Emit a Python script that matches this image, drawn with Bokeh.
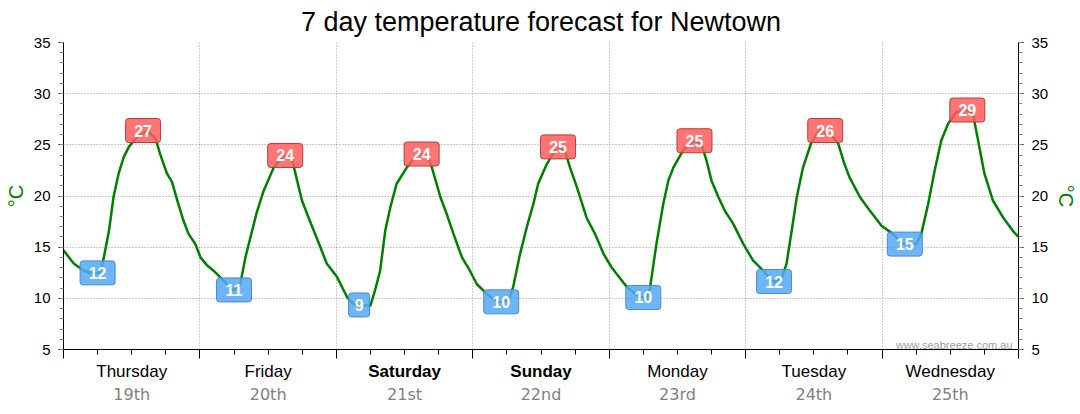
from bokeh.plotting import figure
from bokeh.models import (ColumnDataSource, LinearAxis, FixedTicker, Range1d,
                          Label)
from bokeh.layouts import column
from bokeh.core.properties import value
from bokeh.embed import file_html
from bokeh.resources import INLINE
import numpy as np

# ---------------- data ----------------
title_text = "7 day temperature forecast for Newtown"
days = ["Thursday", "Friday", "Saturday", "Sunday", "Monday", "Tuesday", "Wednesday"]
dates = ["19th", "20th", "21st", "22nd", "23rd", "24th", "25th"]
weekend = [False, False, True, True, False, False, False]

# readings: hours since Thursday 00:00 and temperature in °C
hours = [0.0, 1.8, 3.6, 5.3, 6.5, 7.1, 8.0, 8.8, 9.7, 10.6, 11.5, 12.9,
         14.7, 16.2, 17.0, 18.2, 19.1, 20.0, 21.1, 22.0, 23.2,
         24.1, 25.3, 26.4, 28.2, 29.9, 31.1, 32.0, 32.9, 34.0, 35.2, 37.0,
         38.7, 40.2, 41.1, 41.95, 43.1, 45.2, 46.3,
         48.1, 49.9, 51.0, 52.5, 54.0, 54.8, 55.7, 56.6, 57.5, 58.6, 60.4,
         62.2, 63.9, 64.8, 66.3, 67.4, 68.6, 70.1, 71.5,
         72.7, 74.5, 76.5, 78.3, 79.1, 80.3, 81.5, 82.65, 83.5, 85.0, 86.8,
         88.2, 89.1, 90.3, 92.0, 93.5, 95.0,
         96.4, 99.1, 100.8, 102.6, 103.2, 104.3, 105.5, 106.4, 107.3, 109.0,
         110.8, 112.2, 113.1, 114.0, 115.2, 116.3, 117.8, 119.6,
         121.3, 123.1, 124.8, 126.3, 127.2, 128.1, 129.0, 130.1, 131.6, 133.0,
         135.4, 136.3, 137.4, 138.3, 140.1, 141.8, 143.9,
         145.9, 147.7, 150.0, 150.9, 152.1, 153.25, 154.4, 155.6, 157.1,
         158.8, 160.0, 160.9, 162.0, 163.5, 165.3, 167.0, 168.0]
temps = [14.7, 13.4, 12.7, 12.4, 12.55, 14.0, 16.6, 19.9, 22.2, 23.8, 24.8, 25.75,
         26.4, 25.6, 24.1, 22.2, 21.35, 19.6, 17.6, 16.3, 15.3,
         14.0, 13.2, 12.7, 11.7, 10.77, 11.4, 14.0, 16.0, 18.4, 20.5, 22.8,
         23.96, 23.6, 21.5, 19.56, 17.9, 15.0, 13.4,
         12.1, 10.1, 9.46, 9.3, 9.3, 10.77, 12.7, 16.6, 18.9, 21.2, 22.8,
         24.0, 24.1, 22.8, 19.9, 18.26, 16.3, 14.0, 12.7,
         11.4, 10.4, 9.6, 9.8, 11.1, 14.3, 16.95, 19.2, 21.2, 23.1, 24.8,
         24.45, 22.8, 20.9, 17.9, 16.3, 14.35,
         13.04, 11.1, 10.35, 9.95, 11.1, 15.3, 19.2, 21.5, 22.8, 24.45,
         25.4, 25.1, 23.5, 21.5, 19.9, 18.6, 17.3, 15.3,
         13.7, 12.7, 11.6, 11.9, 13.4, 16.6, 19.9, 22.8, 25.3, 26.4,
         25.75, 25.1, 23.1, 21.8, 19.9, 18.6, 17.1,
         16.3, 15.3, 15.3, 16.3, 19.2, 22.5, 25.4, 27.05, 28.2,
         28.4, 28.0, 25.4, 22.2, 19.56, 17.9, 16.6, 16.0]

min_hours = [6, 30, 52, 77, 102, 125, 148]
min_temps = [12, 11, 9, 10, 10, 12, 15]
max_hours = [14, 39, 63, 87, 111, 134, 159]
max_temps = [27, 24, 24, 25, 25, 26, 29]

y_ticks = [5, 10, 15, 20, 25, 30, 35]
y_minor = list(range(5, 36))
day_ticks = [0, 24, 48, 72, 96, 120, 144, 168]
six_hour_ticks = [6, 12, 18, 30, 36, 42, 54, 60, 66, 78, 84, 90,
                  102, 108, 114, 126, 132, 138, 150, 156, 162]
day_centres = [12, 36, 60, 84, 108, 132, 156]

# ---------------- main figure ----------------
FONT = "Liberation Sans"
W = 1080
LEFT, RIGHT = 63, 62
p = figure(width=W, height=360, output_backend="svg", toolbar_location=None,
           x_range=Range1d(0, 168), y_range=Range1d(5, 35),
           min_border_left=LEFT, min_border_right=RIGHT, min_border_top=42,
           min_border_bottom=11)
p.outline_line_color = None
p.background_fill_color = "white"
p.border_fill_color = "white"

p.title.text = title_text
p.title.text_font = FONT
p.title.text_font_size = "27px"
p.title.text_font_style = "normal"
p.title.text_color = "black"
p.title.align = "center"
p.title.vertical_align = "top"
p.title.standoff = 8

# grids
p.xgrid.ticker = FixedTicker(ticks=day_ticks[1:-1])
p.ygrid.ticker = FixedTicker(ticks=y_ticks[1:-1])
for g in (p.xgrid, p.ygrid):
    g.grid_line_color = "#9a9a9a"
    g.grid_line_dash = "1 2"
    g.grid_line_width = 1

# bottom axis: line and ticks; its labels are drawn in the strip below
xa = p.xaxis[0]
xa.ticker = FixedTicker(ticks=day_ticks, minor_ticks=six_hour_ticks)
xa.axis_line_color = "black"
xa.major_tick_line_color = "black"
xa.minor_tick_line_color = "black"
xa.major_tick_out = 9
xa.major_tick_in = 0
xa.minor_tick_out = 5
xa.minor_tick_in = 0
xa.major_label_standoff = 0
xa.major_label_text_font_size = "0px"
xa.major_label_text_color = None


def style_y(ax):
    ax.ticker = FixedTicker(ticks=y_ticks, minor_ticks=y_minor)
    ax.axis_line_color = "black"
    ax.major_tick_line_color = "black"
    ax.minor_tick_line_color = "#8a8a8a"
    ax.major_tick_out = 5
    ax.major_tick_in = 0
    ax.minor_tick_out = 4
    ax.minor_tick_in = 0
    ax.major_label_standoff = 8
    ax.major_label_text_font = FONT
    ax.major_label_text_font_size = "15px"
    ax.major_label_text_color = "black"
    ax.axis_label = "°C"
    ax.axis_label_text_font = FONT
    ax.axis_label_text_font_size = "20px"
    ax.axis_label_text_font_style = "normal"
    ax.axis_label_text_color = "#008000"
    ax.axis_label_standoff = 4


style_y(p.yaxis[0])
right_axis = LinearAxis()
style_y(right_axis)
p.add_layout(right_axis, "right")

# temperature line
p.line(hours, temps, line_color="#008000", line_width=2.5, line_join="round")

# min / max boxes: placed on the curve's extreme near each label time
h_arr = np.array(hours)
t_arr = np.array(temps)
min_y = np.interp(min_hours, hours, temps)
max_y = [t_arr[np.abs(h_arr - h) <= 2.0].max() for h in max_hours]

box_src = ColumnDataSource(dict(
    x=list(min_hours) + list(max_hours),
    y=list(min_y) + list(max_y),
    txt=[str(v) for v in min_temps] + [str(v) for v in max_temps],
    w=[21 if v < 10 else 35 for v in min_temps] + [21 if v < 10 else 35 for v in max_temps],
    fill=["#55a8f5"] * len(min_temps) + ["#ff5c5c"] * len(max_temps),
    line=["#4a88d8"] * len(min_temps) + ["#c03a3a"] * len(max_temps),
))
r = p.rect(x="x", y="y", width="w", height=24, width_units="screen",
           height_units="screen", fill_color="fill", fill_alpha=0.85,
           line_color="line", line_width=1, source=box_src)
try:
    r.glyph.border_radius = 3
except Exception:
    pass
p.text(x="x", y="y", text="txt", source=box_src, text_color="white",
       text_font=value(FONT), text_font_size="16px", text_font_style="bold",
       text_align="center", text_baseline="middle")

# watermark
p.add_layout(Label(x=168, y=5, x_offset=-6, y_offset=5,
                   text="www.seabreeze.com.au", text_font=FONT,
                   text_font_size="11px", text_color="#a0a0a0",
                   text_align="right", text_baseline="alphabetic"))

# ---------------- strip below: day names and dates ----------------
H2 = 54
q = figure(width=W, height=H2, output_backend="svg", toolbar_location=None,
           x_range=p.x_range, y_range=Range1d(H2, 0),
           x_axis_location=None, y_axis_location=None,
           min_border_left=LEFT, min_border_right=RIGHT, min_border_top=0,
           min_border_bottom=0)
q.outline_line_color = None
q.xgrid.visible = False
q.ygrid.visible = False
q.background_fill_color = "white"
q.border_fill_color = "white"

lab_src = ColumnDataSource(dict(
    x=day_centres,
    yd=[11] * len(days),
    yt=[34] * len(days),
    day=days,
    date=dates,
    style=["bold" if w else "normal" for w in weekend],
))
q.text(x="x", y="yd", text="day", source=lab_src, text_font=value(FONT),
       text_font_size="17px", text_font_style="style", text_color="black",
       text_align="center", text_baseline="alphabetic")
q.text(x="x", y="yt", text="date", source=lab_src,
       text_font=value("DejaVu Sans"), text_font_size="16px",
       text_color="#808080", text_align="center", text_baseline="alphabetic")

layout = column(p, q, spacing=0)
open("out.html", "w").write(file_html(layout, INLINE))
